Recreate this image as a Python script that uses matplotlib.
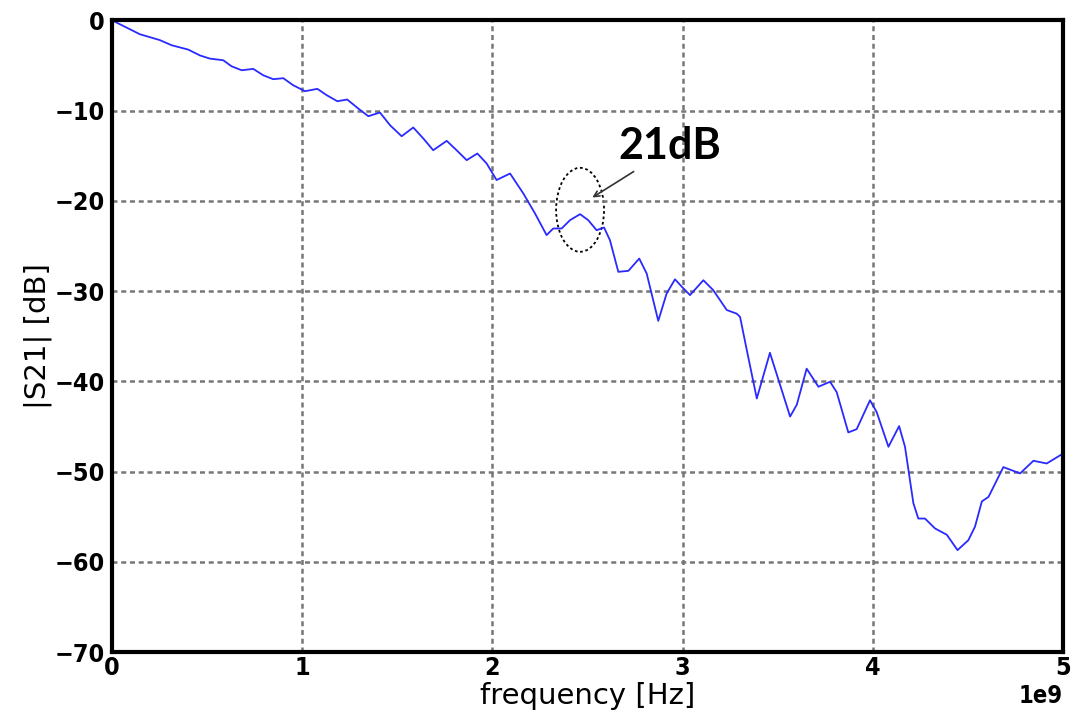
import matplotlib.pyplot as plt
from matplotlib.patches import Ellipse

# frequency in GHz (scaled to Hz when plotted) and |S21| in dB
freq_ghz = [0.0, 0.147, 0.252, 0.314, 0.401, 0.463, 0.515, 0.585, 0.629, 0.682,
            0.743, 0.796, 0.848, 0.901, 0.953, 1.015, 1.080, 1.129, 1.185, 1.237,
            1.295, 1.348, 1.409, 1.462, 1.523, 1.584, 1.637, 1.689, 1.760, 1.812,
            1.865, 1.921, 1.970, 2.022, 2.093, 2.163, 2.224, 2.285, 2.320, 2.364,
            2.408, 2.461, 2.504, 2.548, 2.587, 2.618, 2.662, 2.715, 2.772, 2.811,
            2.872, 2.916, 2.960, 2.995, 3.039, 3.109, 3.161, 3.232, 3.284, 3.302,
            3.337, 3.390, 3.459, 3.565, 3.600, 3.652, 3.714, 3.775, 3.810, 3.871,
            3.915, 3.985, 4.020, 4.082, 4.138, 4.169, 4.213, 4.239, 4.274, 4.327,
            4.389, 4.445, 4.502, 4.537, 4.573, 4.608, 4.686, 4.774, 4.844, 4.914,
            5.0]
s21_db = [0.0, -1.55, -2.2, -2.77, -3.25, -3.9, -4.25, -4.43, -5.1, -5.54,
          -5.39, -6.1, -6.53, -6.42, -7.2, -7.86, -7.6, -8.3, -8.97, -8.78,
          -9.78, -10.63, -10.22, -11.63, -12.85, -11.88, -13.1, -14.4, -13.36, -14.4,
          -15.5, -14.76, -15.87, -17.7, -16.98, -19.2, -21.4, -23.8, -23.07, -23.07,
          -22.15, -21.48, -22.15, -23.26, -22.96, -24.36, -27.87, -27.76, -26.4, -28.05,
          -33.3, -30.27, -28.7, -29.5, -30.45, -28.8, -29.9, -32.1, -32.5, -32.86,
          -36.5, -41.9, -36.84, -43.9, -42.6, -38.6, -40.6, -40.05, -41.2, -45.66,
          -45.3, -42.1, -43.4, -47.25, -44.96, -47.25, -53.5, -55.2, -55.2, -56.3,
          -57.0, -58.7, -57.6, -56.1, -53.3, -52.8, -49.5, -50.2, -48.8, -49.1,
          -48.0]

freq_hz = [f * 1e9 for f in freq_ghz]

fig = plt.figure(figsize=(10.76, 7.23), dpi=100)
ax = fig.add_axes([0.104, 0.098, 0.884, 0.874])

ax.plot(freq_hz, s21_db, color='#2a2aff', linewidth=1.3)

ax.set_xlim(0, 5e9)
ax.set_ylim(-70, 0)
ax.set_xticks([0, 1e9, 2e9, 3e9, 4e9, 5e9])
ax.set_yticks(range(-70, 1, 10))
ax.ticklabel_format(axis='x', style='sci', scilimits=(0, 0))
off = ax.xaxis.get_offset_text()
off.set_fontsize(17)
off.set_fontweight('bold')
off.set_fontstretch('condensed')

ax.grid(True, linestyle=(0, (2, 1.5)), color='#777777', linewidth=1.8)
ax.tick_params(length=0, labelsize=18)
ax.tick_params(axis='x', pad=3)
ax.tick_params(axis='y', pad=5)
for lbl in ax.get_xticklabels() + ax.get_yticklabels():
    lbl.set_fontweight('bold')
    lbl.set_fontstretch('condensed')
for sp in ax.spines.values():
    sp.set_linewidth(3)

ax.set_xlabel('frequency [Hz]', fontsize=21, labelpad=1)
ax.set_ylabel('|S21| [dB]', fontsize=21, labelpad=2)

# annotation around the bump
ax.add_patch(Ellipse((2.461e9, -21.0), 0.252e9, 9.3, fill=False,
                     linestyle=(0, (1.5, 1.5)), linewidth=1.3, edgecolor='black'))
ax.annotate('', xy=(2.513e9, -19.8), xytext=(2.755e9, -16.6),
            arrowprops=dict(arrowstyle='->', color='#333333', lw=1.2))
ax.text(2.93e9, -13.9, '21dB', fontsize=31, fontweight='bold',
        family=['Lato', 'DejaVu Sans'], ha='center', va='center')

fig.savefig('out.png')
